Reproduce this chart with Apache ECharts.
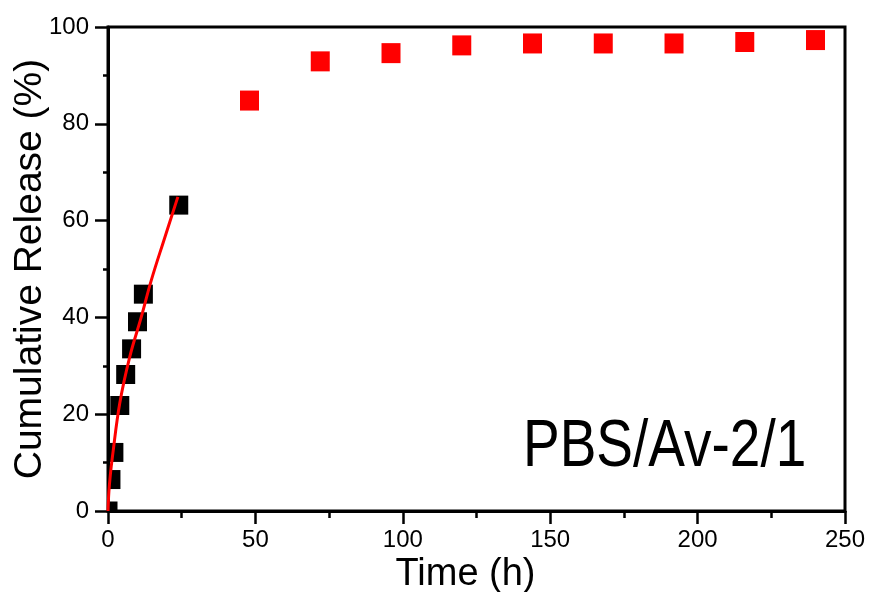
<!DOCTYPE html>
<html><head><meta charset="utf-8">
<script src="https://cdn.jsdelivr.net/npm/echarts@6/dist/echarts.min.js"></script>
<style>html,body{margin:0;padding:0;background:#fff}#c{width:870px;height:592px}</style>
</head><body><div id="c"></div>
<script>
const earlyTime = [0, 1, 2, 4, 6, 8, 10, 12, 24];
const earlyRelease = [0, 6.5, 12.1, 21.8, 28.2, 33.5, 39.1, 44.8, 63.2];
const lateTime = [48, 72, 96, 120, 144, 168, 192, 216, 240];
const lateRelease = [84.8, 92.9, 94.6, 96.2, 96.6, 96.6, 96.6, 96.9, 97.3];
const fitTime = [0, 0.3, 0.8, 1.5, 4, 7.4, 11.3, 14.7, 19, 23.7];
const fitRelease = [0, 4, 7.5, 11.2, 22.3, 31.9, 40.1, 47.7, 56, 64.9];
const xTicks = [0, 50, 100, 150, 200, 250];
const yTicks = [0, 20, 40, 60, 80, 100];
const annotation = 'PBS/Av-2/1';

const font = 'Liberation Sans, Arial, sans-serif';
const zip = (a, b) => a.map((v, i) => [v, b[i]]);
const squareItem = (w, h, color) => (params, api) => {
  const p = api.coord([api.value(0), api.value(1)]);
  return {type: 'rect', shape: {x: p[0] - w / 2, y: p[1] - h / 2, width: w, height: h},
          style: {fill: color}};
};
const chart = echarts.init(document.getElementById('c'), null, {renderer: 'canvas'});
chart.setOption({
  animation: false,
  backgroundColor: '#fff',
  grid: {left: 108, right: 25, top: 27, bottom: 81, show: true, borderColor: '#000', borderWidth: 3,
         containLabel: false, outerBoundsMode: 'none'},
  xAxis: {
    type: 'value', min: xTicks[0], max: xTicks[xTicks.length - 1], interval: 50,
    name: 'Time (h)', nameLocation: 'middle', nameGap: 45, nameMoveOverlap: false,
    nameTextStyle: {fontSize: 38, fontFamily: font, color: '#000', padding: [0, 22, 0, 0]},
    axisLine: {show: true, lineStyle: {color: '#000', width: 3}},
    axisTick: {show: true, length: 13, lineStyle: {color: '#000', width: 2.5}},
    minorTick: {show: true, splitNumber: 2, length: 7, lineStyle: {color: '#000', width: 2.5}},
    axisLabel: {fontSize: 24, fontFamily: font, color: '#000', margin: 17},
    splitLine: {show: false}, minorSplitLine: {show: false}
  },
  yAxis: {
    type: 'value', min: yTicks[0], max: yTicks[yTicks.length - 1], interval: 20,
    name: 'Cumulative Release (%)', nameLocation: 'middle', nameGap: 58, nameMoveOverlap: false,
    nameTextStyle: {fontSize: 39, fontFamily: font, color: '#000'},
    axisLine: {show: true, lineStyle: {color: '#000', width: 3}},
    axisTick: {show: true, length: 13, lineStyle: {color: '#000', width: 2.5}},
    minorTick: {show: true, splitNumber: 2, length: 5, lineStyle: {color: '#000', width: 2.5}},
    axisLabel: {fontSize: 24, fontFamily: font, color: '#000', margin: 19},
    splitLine: {show: false}, minorSplitLine: {show: false}
  },
  series: [
    {type: 'custom', data: zip(earlyTime, earlyRelease), renderItem: squareItem(19, 19, '#000'),
     encode: {x: 0, y: 1}, clip: true, z: 2},
    {type: 'custom', data: zip(lateTime, lateRelease), renderItem: squareItem(19, 20, '#ff0000'),
     encode: {x: 0, y: 1}, clip: true, z: 2},
    {type: 'line', data: zip(fitTime, fitRelease), smooth: 0.4, showSymbol: false,
     lineStyle: {color: '#ff0000', width: 3}, clip: true, z: 3}
  ],
  graphic: [{type: 'text', x: 523, y: 414, scaleY: 1.22,
    style: {text: annotation, font: '55px ' + font, fill: '#000', textVerticalAlign: 'top'}}]
});
</script></body></html>
